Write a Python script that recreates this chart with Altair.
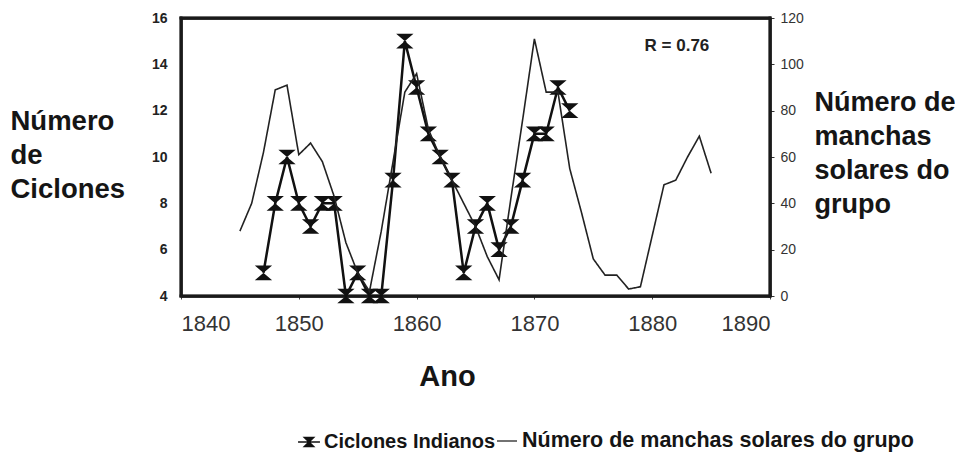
import altair as alt
import pandas as pd

# ---- data ----
cyc_years = list(range(1847, 1874))
cyc_vals = [5, 8, 10, 8, 7, 8, 8, 4, 5, 4, 4, 9, 15, 13, 11, 10, 9, 5, 7, 8, 6, 7, 9, 11, 11, 13, 12]

sun_years = list(range(1845, 1886))
sun_vals = [28, 40, 62, 89, 91, 61, 66, 58, 43, 23, 10, 2, 28, 58, 88, 96, 72, 60, 50, 40,
            30, 17, 7, 42, 76, 111, 88, 88, 55, 36, 16, 9, 9, 3, 4, 26, 48, 50, 60, 69, 53]

x_ticks = [1840, 1850, 1860, 1870, 1880, 1890]
left_ticks = [4, 6, 8, 10, 12, 14, 16]
right_ticks = [0, 20, 40, 60, 80, 100, 120]
x_range = [1840, 1890]
left_range = [4, 16]
right_range = [0, 120]

series_names = ["Ciclones Indianos", "Número de manchas solares do grupo"]

# annotation (correlation coefficient) placed in data space
ann_text = ["R = 0.76"]
ann_year = [1882.1]
ann_level = [14.8]

cyc_df = pd.DataFrame({"ano": cyc_years, "ciclones": cyc_vals, "serie": series_names[0]})
sun_df = pd.DataFrame({"ano": sun_years, "manchas": sun_vals, "serie2": series_names[1]})
ann_df = pd.DataFrame({"ano": ann_year, "ciclones": ann_level, "txt": ann_text})
# plot frame edges along the axis ranges (horizontal and vertical sides)
hedge_df = pd.DataFrame({"ano": [x_range[0]] * 2, "ano2": [x_range[1]] * 2, "ciclones": left_range})
vedge_df = pd.DataFrame({"ano": x_range, "ciclones": [left_range[0]] * 2, "ciclones2": [left_range[1]] * 2})

FONT = "Liberation Sans"
INK = "#151515"
HOUR = "M-1,-0.85L1,-0.85L-1,0.85L1,0.85Z"
LEG_HOUR = "M-1,0L1,0M-0.42,-0.4L0.42,-0.4L-0.42,0.4L0.42,0.4Z"
FRAME = dict(domain=True, domainColor=INK, domainWidth=2.5, domainOpacity=1)

x_scale = alt.Scale(domain=x_range, nice=False, zero=False)

x_enc = alt.X(
    "ano:Q",
    scale=x_scale,
    axis=alt.Axis(
        values=x_ticks, format="d", grid=False, **FRAME,
        tickSize=3, tickColor="#444", labelFontSize=22, labelFont=FONT,
        labelColor="#333", labelPadding=14,
        title="Ano", titleFontSize=29, titleFont=FONT, titleFontWeight="bold",
        titleColor=INK, titleX=266, titleY=89, titleBaseline="alphabetic",
        titleAlign="center",
    ),
)

x_top = alt.X(
    "ano:Q",
    scale=x_scale,
    axis=alt.Axis(orient="top", labels=False, ticks=False, grid=False, title=None, **FRAME),
)

left_axis = alt.Axis(
    values=left_ticks, grid=False, ticks=False, **FRAME,
    labelFontSize=14, labelFont=FONT, labelFontWeight="bold", labelColor="#222",
    labelPadding=14,
    title=["Número", "de", "Ciclones"], titleAngle=0, titleAlign="left",
    titleBaseline="top", titleX=-171, titleY=89, titleLineHeight=34,
    titleFontSize=27.5, titleFont=FONT, titleFontWeight="bold", titleColor=INK,
)
y_scale_left = alt.Scale(domain=left_range, nice=False, zero=False)
y_left = alt.Y("ciclones:Q", scale=y_scale_left, axis=left_axis)

hedges = alt.Chart(hedge_df).mark_rule(color="#1a1a1a", strokeWidth=3, strokeCap="square").encode(
    x=x_enc, x2="ano2:Q", y=y_left
)
vedges = alt.Chart(vedge_df).mark_rule(color="#1a1a1a", strokeWidth=3, strokeCap="square").encode(
    x=x_enc, y=y_left, y2="ciclones2:Q"
)

cyc_line = alt.Chart(cyc_df).mark_line(color="#111", strokeWidth=2.5).encode(x=x_enc, y=y_left)

cyc_pts = alt.Chart(cyc_df).mark_point(
    shape=HOUR, filled=True, size=300, opacity=1, strokeWidth=1
).encode(
    x=x_enc,
    y=y_left,
    color=alt.Color(
        "serie:N",
        scale=alt.Scale(domain=[series_names[0]], range=["#111"]),
        legend=alt.Legend(
            title=None, orient="none", legendX=116, legendY=412, padding=0,
            symbolType=LEG_HOUR, symbolSize=480, symbolFillColor="#111",
            symbolStrokeColor="#111", symbolStrokeWidth=1.5, symbolOpacity=1,
            labelFont=FONT, labelFontSize=20, labelFontWeight="bold",
            labelColor=INK, labelOffset=3, labelLimit=400,
        ),
    ),
)

ann = alt.Chart(ann_df).mark_text(
    font=FONT, fontSize=17, fontWeight="bold", color="#222", align="center", baseline="middle"
).encode(x=x_enc, y=y_left, text="txt:N")

sun_line = alt.Chart(sun_df).mark_line(color="#222", strokeWidth=1.6).encode(
    x=x_top,
    y=alt.Y(
        "manchas:Q",
        scale=alt.Scale(domain=right_range, nice=False, zero=False),
        axis=alt.Axis(
            orient="right", values=right_ticks, grid=False, **FRAME,
            tickSize=4, tickColor="#333", labelFontSize=14, labelFont=FONT,
            labelColor="#333", labelPadding=6,
            title=["Número de", "manchas", "solares do", "grupo"], titleAngle=0,
            titleAlign="left", titleBaseline="top", titleX=44, titleY=71,
            titleLineHeight=34, titleFontSize=27, titleFont=FONT,
            titleFontWeight="bold", titleColor=INK,
        ),
    ),
    strokeDash=alt.StrokeDash(
        "serie2:N",
        scale=alt.Scale(domain=[series_names[1]], range=[[1, 0]]),
        legend=alt.Legend(
            title=None, orient="none", legendX=315, legendY=412, padding=0,
            symbolSize=400, symbolStrokeColor="#444", symbolStrokeWidth=1.3,
            labelFont=FONT, labelFontSize=21.5, labelFontWeight="bold",
            labelColor=INK, labelOffset=4, labelLimit=500,
        ),
    ),
)

left = alt.layer(hedges, vedges, cyc_line, cyc_pts, ann)

chart = (
    alt.layer(left, sun_line)
    .resolve_scale(y="independent")
    .resolve_axis(x="independent")
    .properties(
        width=589,
        height=278,
        autosize=alt.AutoSizeParams(type="none"),
        padding={"left": 173, "top": 10, "right": 185, "bottom": 156},
        background="white",
    )
    .configure_view(stroke=INK, strokeWidth=2.5)
)

chart.save("out.html", embed_options={"renderer": "svg", "actions": False})
